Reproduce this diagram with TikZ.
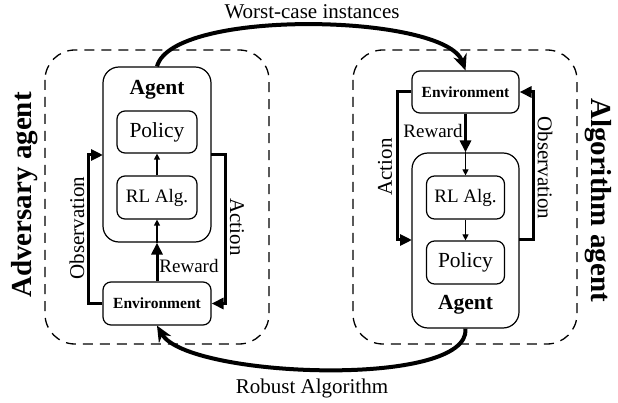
\documentclass[tikz,border=0pt]{standalone}
\usepackage{fontspec}
\setmainfont{Liberation Serif}
\usetikzlibrary{arrows.meta,calc}
\begin{document}
\begin{tikzpicture}[x=1pt,y=-1pt,
  box/.style={draw,line width=1.2pt,rounded corners=8pt,inner sep=0pt},
  bigbox/.style={draw,line width=1.2pt,rounded corners=16pt,inner sep=0pt},
  dashbox/.style={draw,line width=1.3pt,rounded corners=30pt,dash pattern=on 10pt off 7pt},
  thickarr/.style={line width=3pt,-{Triangle[length=12pt,width=11pt]}},
  thinarr/.style={line width=1.2pt,-{Triangle[length=6pt,width=6pt]}},
  arcarr/.style={line width=4pt,-{Stealth[length=16pt,width=14pt]}},
  lbl/.style={font=\fontsize{21}{24}\selectfont,inner sep=0pt},
  envlbl/.style={font=\fontsize{15.5}{18}\selectfont\bfseries,inner sep=0pt},
  ttl/.style={font=\fontsize{29}{32}\selectfont\bfseries,inner sep=0pt}
]
\useasboundingbox (0,0) rectangle (618,403);
% dashed groups
\draw[dashbox] (45,50) rectangle (269,344);
\draw[dashbox] (353,50) rectangle (577,344);
% left side
\node[bigbox,minimum width=108pt,minimum height=175pt] (lagent) at (157,154.5) {};
\node[lbl,font=\fontsize{21.5}{24}\selectfont\bfseries] (lagentlbl) at (157,90) {Agent};
\node[box,minimum width=80pt,minimum height=42pt,lbl,font=\fontsize{21.5}{24}\selectfont] (lpol) at (157,132) {Policy};
\node[box,minimum width=80pt,minimum height=43pt,lbl,font=\fontsize{19}{22}\selectfont] (lrl) at (157,197.5) {RL Alg.};
\node[box,minimum width=108pt,minimum height=43pt,envlbl] (lenv) at (157,303.5) {Environment};
\coordinate (lobsin) at (103,155);
\coordinate (lactout) at (211,155);
\draw[thickarr] (lenv.west) -- ++(-14,0) |- (lobsin);
\draw[thickarr] (lactout) -- ++(14,0) |- (lenv.east);
\draw[thickarr] (lenv.north) -- (lagent.south);
\draw[thinarr] (lagent.south) -- (lrl.south);
\draw[thinarr] (lrl.north) -- (lpol.south);
\node[lbl,rotate=90] (lobslbl) at (77,228) {Observation};
\node[lbl,rotate=-90] (lactlbl) at (237,227) {Action};
\node[lbl,font=\fontsize{19}{22}\selectfont] (lrewlbl) at (189,266) {Reward};
\node[ttl,rotate=90] (advlbl) at (25,195) {Adversary agent};
% right side
\node[box,minimum width=107pt,minimum height=42pt,envlbl] (renv) at (465.5,92) {Environment};
\node[bigbox,minimum width=107pt,minimum height=175pt] (ragent) at (465.5,240.5) {};
\node[lbl,font=\fontsize{21.5}{24}\selectfont\bfseries] (ragentlbl) at (465.5,305) {Agent};
\node[box,minimum width=78pt,minimum height=43pt,lbl,font=\fontsize{19}{22}\selectfont] (rrl) at (465.5,197.5) {RL Alg.};
\node[box,minimum width=78pt,minimum height=43pt,lbl,font=\fontsize{21.5}{24}\selectfont] (rpol) at (465.5,262.5) {Policy};
\coordinate (ractin) at (412,240);
\coordinate (robsout) at (519,240);
\draw[thickarr] (renv.west) -- ++(-14,0) |- (ractin);
\draw[thickarr] (robsout) -- ++(14,0) |- (renv.east);
\draw[thickarr] (renv.south) -- (ragent.north);
\draw[thinarr] (ragent.north) -- (rrl.north);
\draw[thinarr] (rrl.south) -- (rpol.north);
\node[lbl,rotate=90] (ractlbl) at (385,167) {Action};
\node[lbl,rotate=-90] (robslbl) at (545,168) {Observation};
\node[lbl,font=\fontsize{19}{22}\selectfont] (rrewlbl) at (433,131) {Reward};
\node[ttl,rotate=-90] (alglbl) at (598,200) {Algorithm agent};
% arcs
\draw[arcarr] (lagent.north) to[out=75,in=110,looseness=0.5] (renv.north);
\draw[arcarr] (ragent.south) to[out=-85,in=-60,looseness=0.5] (lenv.south);
\node[lbl] (toplbl) at (312,12) {Worst-case instances};
\node[lbl] (botlbl) at (312,388) {Robust Algorithm};
\end{tikzpicture}
\end{document}
